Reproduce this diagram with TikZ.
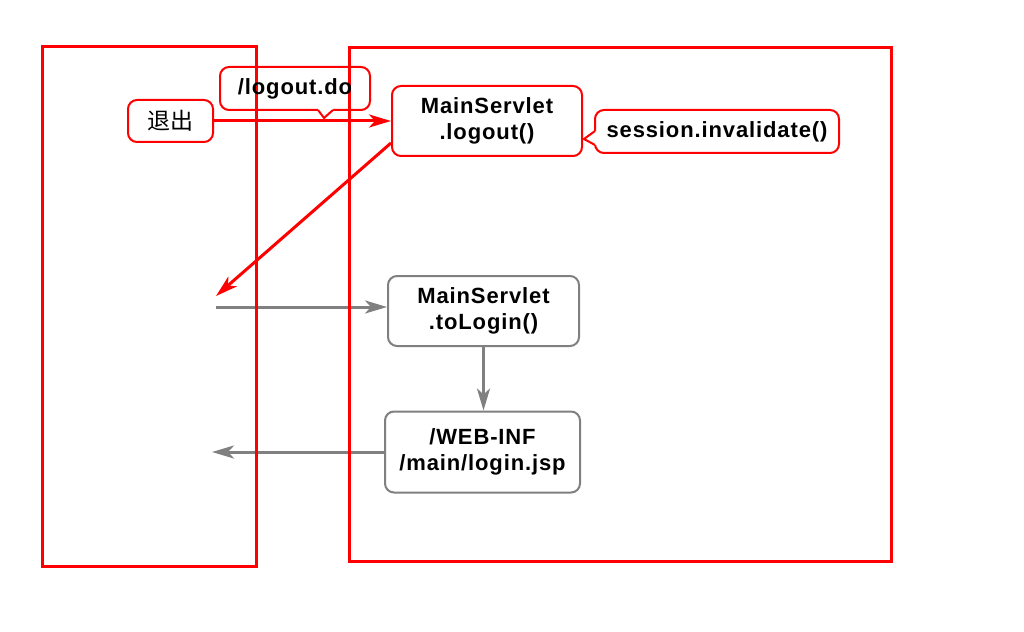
\documentclass[tikz,border=0pt]{standalone}
\usepackage{fontspec}
\setmainfont{Liberation Sans}
\newfontfamily\cjk{Noto Sans CJK SC}
\usetikzlibrary{arrows.meta,calc}
\definecolor{boxgray}{RGB}{128,128,128}
\begin{document}
\begin{tikzpicture}[x=1pt,y=-1pt,
  frame/.style={draw=red,line width=3pt},
  txt/.style={font=\bfseries\fontsize{22}{26}\selectfont\addfontfeatures{LetterSpace=4},align=center,inner sep=0pt},
  redbox/.style={txt,draw=red,line width=2pt,rounded corners=9pt},
  graybox/.style={txt,draw=boxgray,line width=2pt,rounded corners=9pt},
  callbox/.style={txt,draw=red,line width=2pt,rounded corners=9pt},
  callline/.style={draw=red,line width=2pt,line join=miter},
  tip/.style={-{Stealth[length=22pt,width=13pt,inset=6pt]}},
  redarrow/.style={draw=red,line width=3pt,tip},
  grayarrow/.style={draw=boxgray,line width=3pt,tip}]
\useasboundingbox (0,0) rectangle (1024,631);
\fill[white] (0,0) rectangle (1024,631);
% nodes
\node[redbox,minimum width=190pt,minimum height=70pt] (logout) at (487,121) {MainServlet\\.logout()};
\node[callbox,minimum width=244pt,minimum height=43pt] (sess) at (717,131.5) {session.invalidate()};
\node[redbox,font=\cjk\fontsize{23}{26}\selectfont,minimum width=85pt,minimum height=42pt] (exit) at (170.5,121) {退出};
\node[graybox,minimum width=191pt,minimum height=70pt] (tologin) at (483.5,311) {MainServlet\\.toLogin()};
\node[graybox,minimum width=195pt,minimum height=81pt] (jsp) at (482.5,452) {/WEB-INF\\/main/login.jsp};
\coordinate (back) at (216,296);
\coordinate (fwd) at (216,307);
\coordinate (ret) at (212,452);
% session callout pointer
\fill[white] (597,131) -- (595,131) -- (584,139) -- (595,145) -- (597,145) -- cycle;
\draw[callline] (595,131) -- (584,139) -- (595,145);
% connectors
\draw[redarrow] (exit.east) -- (logout.west);
\draw[redarrow] ($(logout.south west)+(0,-14)$) -- (back);
\draw[grayarrow] (fwd) -- (fwd -| tologin.west);
\draw[grayarrow] (tologin.south) -- (tologin.south |- jsp.north);
\draw[grayarrow] (jsp.west) -- (jsp.west -| ret);
% frames (on top of connectors)
\draw[frame] (42,47) rectangle (256,566);
\draw[frame] (349,48) rectangle (891,561);
% url callout
\node[callbox,minimum width=150pt,minimum height=43pt] (url) at (295,88.5) {/logout.do};
\fill[white] (318,108) -- (318,110) -- (324,118) -- (333,110) -- (333,108) -- cycle;
\draw[callline] (318,110) -- (324,118) -- (333,110);
\end{tikzpicture}
\end{document}
